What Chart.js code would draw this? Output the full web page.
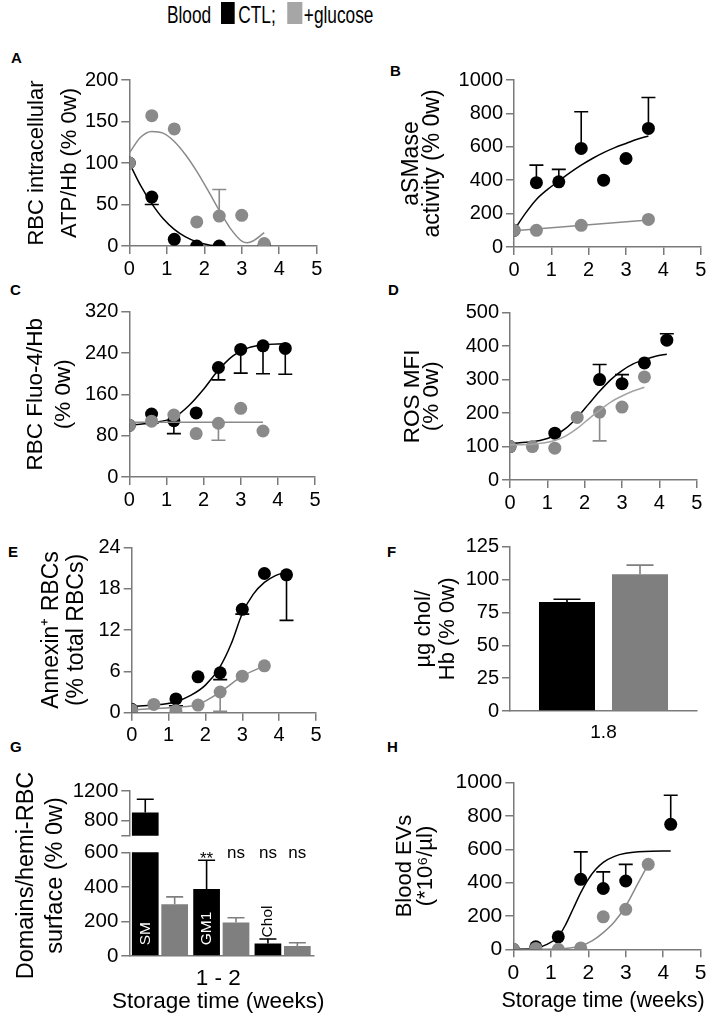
<!DOCTYPE html>
<html lang="en">
<head>
<meta charset="UTF-8">
<title>Stored blood: CTL vs +glucose</title>
<script src="https://cdn.jsdelivr.net/npm/chart.js"></script>
<style>
  html, body { margin: 0; padding: 0; overflow: hidden; background: #fff; }
  body { width: 717px; height: 1015px; position: relative; font-family: 'Liberation Sans', Arial, sans-serif; color: #000; }
  canvas { position: absolute; }
  .letter { position: absolute; font-weight: bold; font-size: 15px; line-height: 16px; }
  #legend { position: absolute; left: 167px; top: 0; height: 28px; width: 300px; transform: scaleX(0.72); transform-origin: 0 0; font-size: 24px; line-height: 28px; white-space: nowrap; }
  #legend span { position: absolute; top: 1px; }
  #legend i { position: absolute; top: 2px; height: 22px; }
</style>
</head>
<body>

<div id="legend">
  <span style="left:0">Blood</span>
  <i style="left:75px;width:19px;background:#000"></i>
  <span style="left:99px">CTL;</span>
  <i style="left:167px;width:21px;background:#a6a6a6"></i>
  <span style="left:190px">+glucose</span>
</div>

<div class="letter" style="left:11px;top:50px">A</div>
<div class="letter" style="left:390px;top:63px">B</div>
<div class="letter" style="left:10px;top:282px">C</div>
<div class="letter" style="left:388px;top:282px">D</div>
<div class="letter" style="left:8px;top:544px">E</div>
<div class="letter" style="left:387px;top:544px">F</div>
<div class="letter" style="left:10px;top:739px">G</div>
<div class="letter" style="left:387px;top:739px">H</div>

<script>
// ---------- data ----------
const weekRange = [0, 5];

// A  intracellular ATP/Hb
const atpWeeksCtl = [0, 0.6, 1.2, 1.8, 2.4, 3.6];
const atpCtl      = [100, 59, 8, 0, 0, 1];
const atpCtlErr   = [null, 50, null, null, null, null];
const atpWeeksGlu = [0, 0.6, 1.2, 1.8, 2.4, 3.0, 3.6];
const atpGlu      = [100, 157, 141, 29, 36, 37, 3];
const atpGluErr   = [null, null, null, null, 68, null, null];
const atpCtlFitX  = [0, 0.3, 0.6, 0.9, 1.2, 1.5, 1.8, 2.1, 2.3];
const atpCtlFitY  = [100, 73, 51, 33, 20, 11, 5, 1.5, 0];
const atpGluFitX  = [0, 0.3, 0.6, 0.9, 1.2, 1.5, 1.8, 2.1, 2.4, 2.7, 3.0, 3.15, 3.3, 3.6];
const atpGluFitY  = [112, 131, 138, 136, 126, 110, 90, 67, 43, 21, 6, 4, 6, 16];

// B  aSMase activity
const smaseWeeksCtl = [0, 0.6, 1.2, 1.8, 2.4, 3.0, 3.6];
const smaseCtl      = [100, 385, 390, 590, 400, 530, 710];
const smaseCtlErr   = [null, 490, 465, 810, null, null, 895];
const smaseWeeksGlu = [0, 0.6, 1.8, 3.6];
const smaseGlu      = [100, 100, 130, 165];
const smaseCtlFitX  = [0, 0.3, 0.6, 0.9, 1.2, 1.5, 1.8, 2.1, 2.4, 2.7, 3.0, 3.3, 3.6];
const smaseCtlFitY  = [100, 200, 285, 345, 395, 445, 490, 530, 565, 595, 620, 645, 665];
const smaseGluFitX  = [0, 3.6];
const smaseGluFitY  = [98, 162];

// C  Fluo-4/Hb
const fluoWeeksCtl = [0, 0.6, 1.2, 1.8, 2.4, 3.0, 3.6, 4.2];
const fluoCtl      = [100, 122, 109, 124, 212, 247, 254, 249];
const fluoCtlErr   = [null, 104, 84, null, 188, 201, 200, 199];
const fluoWeeksGlu = [0, 0.6, 1.2, 1.8, 2.4, 3.0, 3.6];
const fluoGlu      = [100, 108, 120, 84, 104, 133, 89];
const fluoGluErr   = [null, null, null, null, 71, null, null];
const fluoCtlFitX  = [0, 0.4, 0.8, 1.2, 1.6, 2.0, 2.4, 2.8, 3.2, 3.6, 4.2];
const fluoCtlFitY  = [100, 103, 107, 115, 138, 170, 207, 235, 250, 256, 258];
const fluoGluFitX  = [0, 3.6];
const fluoGluFitY  = [106, 106];

// D  ROS MFI
const rosWeeksCtl = [0, 1.2, 2.4, 3.0, 3.6, 4.2];
const rosCtl      = [100, 140, 300, 288, 350, 418];
const rosCtlErr   = [null, null, 345, 315, null, 437];
const rosWeeksGlu = [0, 0.6, 1.2, 1.8, 2.4, 3.0, 3.6];
const rosGlu      = [100, 100, 95, 187, 203, 218, 308];
const rosGluErr   = [null, null, null, null, 117, null, null];
const rosCtlFitX  = [0, 0.6, 1.0, 1.2, 1.5, 1.8, 2.1, 2.4, 2.7, 3.0, 3.3, 3.6, 3.9, 4.2];
const rosCtlFitY  = [110, 114, 124, 133, 155, 187, 226, 265, 300, 327, 347, 360, 370, 376];
const rosGluFitX  = [0, 0.6, 1.2, 1.5, 1.8, 2.1, 2.4, 2.7, 3.0, 3.3, 3.6];
const rosGluFitY  = [105, 107, 118, 132, 154, 182, 209, 233, 251, 266, 277];

// E  Annexin+ RBCs
const annexWeeksCtl = [0, 1.2, 1.8, 2.4, 3.0, 3.6, 4.2];
const annexCtl      = [0.5, 2, 5.2, 5.8, 15, 20.2, 20];
const annexCtlErr   = [null, 1.0, null, 4.8, 14.3, null, 13.4];
const annexWeeksGlu = [0, 0.6, 1.2, 1.8, 2.4, 3.0, 3.6];
const annexGlu      = [0.4, 1.2, 0.3, 1.1, 3.0, 5.3, 6.8];
const annexGluErr   = [null, null, null, null, 0.2, null, null];
const annexCtlFitX  = [0, 0.6, 1.2, 1.6, 2.0, 2.4, 2.7, 3.0, 3.3, 3.6, 3.9, 4.2];
const annexCtlFitY  = [0.9, 1.1, 1.6, 2.5, 4.0, 6.7, 10.0, 14.4, 17.2, 18.9, 19.9, 20.4];
const annexGluFitX  = [0, 0.6, 1.2, 1.8, 2.4, 3.0, 3.6];
const annexGluFitY  = [0.4, 0.6, 0.8, 1.2, 3.0, 5.3, 6.8];

// F  cholesterol/Hb at 1.8 w
const cholWeek   = ['1.8'];
const cholCtl    = [83];
const cholCtlErr = [85];
const cholGlu    = [104];
const cholGluErr = [111];

// G  domains / hemi-RBC surface at 1-2 w
const domainLipids    = ['SM', 'GM1', 'Chol'];
const domainCtl       = [910, 387, 73];
const domainCtlErr    = [1090, 554, 98];
const domainGlu       = [300, 194, 58];
const domainGluErr    = [342, 221, 77];
const domainMarksCtl  = ['', '**', 'ns'];
const domainMarksGlu  = ['', 'ns', 'ns'];
const domainUpperTicks = [600, 800, 1200];

// H  blood EVs
const evWeeksCtl = [0, 0.6, 1.2, 1.8, 2.4, 3.0, 4.2];
const evCtl      = [0, 15, 75, 420, 365, 410, 750];
const evCtlErr   = [null, null, null, 585, 465, 510, 925];
const evWeeksGlu = [0, 0.6, 1.2, 1.8, 2.4, 3.0, 3.6];
const evGlu      = [0, 5, 0, 8, 195, 240, 510];
const evCtlFitX  = [0, 0.6, 0.9, 1.2, 1.4, 1.6, 1.8, 2.0, 2.2, 2.4, 2.7, 3.0, 3.5, 4.2];
const evCtlFitY  = [0, 8, 30, 75, 150, 245, 340, 420, 480, 522, 558, 576, 587, 590];
const evGluFitX  = [0, 1.2, 1.5, 1.8, 2.1, 2.4, 2.7, 3.0, 3.3, 3.6];
const evGluFitY  = [0, 2, 8, 20, 50, 100, 165, 260, 385, 510];

// ---------- look ----------
const FONT = "'Liberation Sans', Arial, Helvetica, sans-serif";
const AXIS = '#7a7a7a';
const BLACK = '#000000';
const GREY = '#8a8a8a';
const GREY_BAR = '#7f7f7f';

Chart.defaults.font.family = FONT;
Chart.defaults.color = '#000';

// error bars drawn just under their own dataset
const errorBars = {
  id: 'errorBars',
  beforeDatasetDraw(chart, args, opts) {
    const ds = chart.data.datasets[args.index];
    if (!ds.errTo) return;
    const meta = args.meta;
    const ys = chart.scales[meta.yAxisID];
    const ctx = chart.ctx;
    const a = chart.chartArea;
    const half = (opts.cap || 14) / 2;
    ctx.save();
    if (opts.clip) {
      ctx.beginPath();
      ctx.rect(a.left, a.top, a.right - a.left, a.bottom - a.top);
      ctx.clip();
    }
    ctx.strokeStyle = ds.errColor;
    ctx.lineWidth = 1.6;
    meta.data.forEach((el, i) => {
      const to = ds.errTo[i];
      if (to === null || to === undefined) return;
      const y1 = ys.getPixelForValue(to);
      ctx.beginPath();
      ctx.moveTo(el.x, el.y);
      ctx.lineTo(el.x, y1);
      ctx.moveTo(el.x - half, y1);
      ctx.lineTo(el.x + half, y1);
      ctx.stroke();
    });
    ctx.restore();
  }
};

// lipid names inside the bars and significance marks above them (panel G)
const barTags = {
  id: 'barTags',
  afterDatasetsDraw(chart) {
    const ctx = chart.ctx;
    const a = chart.chartArea;
    chart.data.datasets.forEach((ds, di) => {
      const meta = chart.getDatasetMeta(di);
      meta.data.forEach((el, i) => {
        const tag = ds.tags ? ds.tags[i] : '';
        if (tag) {
          const inside = el.base - Math.max(el.y, a.top) > 60;
          ctx.save();
          ctx.translate(el.x, inside ? el.base - 10 : el.y - 6);
          ctx.rotate(-Math.PI / 2);
          ctx.font = '15.5px ' + FONT;
          ctx.fillStyle = inside ? '#fff' : '#000';
          ctx.textAlign = 'left';
          ctx.textBaseline = 'middle';
          ctx.fillText(tag, 0, 0);
          ctx.restore();
        }
        const mark = ds.marks ? ds.marks[i] : '';
        if (mark) {
          ctx.save();
          ctx.font = '17px ' + FONT;
          ctx.fillStyle = '#000';
          ctx.textAlign = 'center';
          ctx.textBaseline = 'middle';
          ctx.fillText(mark, el.x, a.top + 1 + (mark.indexOf('*') >= 0 ? 6 : 0));
          ctx.restore();
        }
      });
    });
  }
};

// y title spanning both halves of the broken axis in G
const splitTitle = {
  id: 'splitTitle',
  afterDraw(chart, args, opts) {
    if (!opts.lines) return;
    const s = chart.scales.y;
    const ctx = chart.ctx;
    ctx.save();
    ctx.font = opts.size + 'px ' + FONT;
    ctx.fillStyle = '#000';
    ctx.textAlign = 'center';
    ctx.textBaseline = 'middle';
    opts.lines.forEach((line, i) => {
      ctx.save();
      ctx.translate(s.left + opts.lh / 2 + i * opts.lh, opts.centerY);
      ctx.rotate(-Math.PI / 2);
      ctx.fillText(line, 0, 0);
      ctx.restore();
    });
    ctx.restore();
  }
};

// x title that may run wider than the plot (Chart.js squeezes its own to the axis width)
const wideXTitle = {
  id: 'wideXTitle',
  afterDraw(chart, args, opts) {
    if (!opts.lines) return;
    const a = chart.chartArea;
    const ctx = chart.ctx;
    ctx.save();
    ctx.font = opts.size + 'px ' + FONT;
    ctx.fillStyle = '#000';
    ctx.textAlign = 'center';
    ctx.textBaseline = 'middle';
    opts.lines.forEach((line, i) => {
      ctx.fillText(line, (a.left + a.right) / 2 + (opts.dx || 0), a.bottom + opts.offsets[i]);
    });
    ctx.restore();
  }
};

function addCanvas(box, yw, padT, padR, xh) {
  const left = Math.floor(box.L - yw);
  const top = Math.floor(box.T - padT);
  const width = Math.ceil(box.R + padR) - left;
  const height = Math.ceil(box.B + xh) - top;
  const c = document.createElement('canvas');
  c.width = width;
  c.height = height;
  c.style.left = left + 'px';
  c.style.top = top + 'px';
  c.style.width = width + 'px';
  c.style.height = height + 'px';
  document.body.appendChild(c);
  return { canvas: c, left: left, top: top, yw: box.L - left, padT: box.T - top,
           padR: width - (box.R - left), xh: height - (box.B - top) };
}

function titleWidth(box, t) {
  return box.L - (t.base1 - 0.35 * t.size - t.lh / 2);
}

function pts(xs, ys) {
  return xs.map((x, i) => ({ x: x, y: ys[i] }));
}
function dots(xs, ys, color, err) {
  return { type: 'scatter', data: pts(xs, ys), backgroundColor: color, borderWidth: 0,
           pointRadius: 6.5, pointHoverRadius: 6.5, errTo: err, errColor: color };
}
function curve(xs, ys, color) {
  return { type: 'line', data: pts(xs, ys), borderColor: color, borderWidth: 1.5, pointRadius: 0,
           cubicInterpolationMode: 'monotone', fill: false };
}

function lineOpts(tickLen, show) {
  return {
    grid: { display: show, drawOnChartArea: false, drawTicks: true, tickLength: tickLen, color: AXIS, lineWidth: 1.5 },
    border: { display: true, color: AXIS, width: 1.5 }
  };
}

const plainNumber = (v) => String(v);

function yAxis(y, t, yw, tick, cb) {
  return Object.assign({
    type: 'linear', min: y.min, max: y.max,
    ticks: { stepSize: y.step, font: { size: tick }, color: '#000', padding: 3, autoSkip: false, callback: cb || plainNumber },
    title: t ? { display: true, text: t.lines, font: { size: t.size, lineHeight: t.lh / t.size }, color: '#000', padding: 0 } : { display: false },
    afterFit: s => { s.width = yw; }
  }, lineOpts(8, true));
}

function weeksAxis(tick, xh) {
  return Object.assign({
    type: 'linear', min: weekRange[0], max: weekRange[1],
    ticks: { stepSize: 1, font: { size: tick }, color: '#000', padding: 3, callback: plainNumber },
    afterFit: s => { s.height = xh; }
  }, lineOpts(8, true));
}

function weeksChart(s) {
  const g = addCanvas(s.box, titleWidth(s.box, s.title), 16, 14, s.xh || 38);
  return new Chart(g.canvas, {
    type: 'scatter',
    data: { datasets: s.datasets },
    options: {
      responsive: false, animation: false, events: [],
      layout: { padding: { left: 0, top: g.padT, right: g.padR, bottom: 0 } },
      plugins: { legend: { display: false }, tooltip: { enabled: false }, errorBars: { cap: 14 },
                 wideXTitle: s.xTitle || {} },
      scales: {
        x: weeksAxis(s.tick, g.xh),
        y: yAxis(s.y, s.title, g.yw, s.tick)
      }
    },
    plugins: [errorBars, wideXTitle]
  });
}

// ---------- panels ----------
weeksChart({
  box: { L: 129.3, R: 316.7, T: 80, B: 246 },
  title: { lines: ['RBC intracellular', 'ATP/Hb (% 0w)'], size: 22, lh: 33, base1: 45 },
  tick: 20, y: { min: 0, max: 200, step: 50 },
  datasets: [
    curve(atpGluFitX, atpGluFitY, GREY),
    dots(atpWeeksGlu, atpGlu, GREY, atpGluErr),
    curve(atpCtlFitX, atpCtlFitY, BLACK),
    dots(atpWeeksCtl, atpCtl, BLACK, atpCtlErr)
  ]
});

weeksChart({
  box: { L: 514, R: 700.7, T: 80, B: 247 },
  title: { lines: ['aSMase', 'activity (% 0w)'], size: 23, lh: 21, base1: 420.5 },
  tick: 20, y: { min: 0, max: 1000, step: 200 },
  datasets: [
    curve(smaseGluFitX, smaseGluFitY, GREY),
    dots(smaseWeeksGlu, smaseGlu, GREY, null),
    curve(smaseCtlFitX, smaseCtlFitY, BLACK),
    dots(smaseWeeksCtl, smaseCtl, BLACK, smaseCtlErr)
  ]
});

weeksChart({
  box: { L: 129.3, R: 315, T: 311.7, B: 477 },
  title: { lines: ['RBC Fluo-4/Hb', '(% 0w)'], size: 22.5, lh: 28, base1: 44.5 },
  tick: 20, y: { min: 0, max: 320, step: 80 },
  datasets: [
    curve(fluoGluFitX, fluoGluFitY, GREY),
    dots(fluoWeeksGlu, fluoGlu, GREY, fluoGluErr),
    curve(fluoCtlFitX, fluoCtlFitY, BLACK),
    dots(fluoWeeksCtl, fluoCtl, BLACK, fluoCtlErr)
  ]
});

weeksChart({
  box: { L: 510, R: 696.7, T: 312.7, B: 480 },
  title: { lines: ['ROS MFI', '(% 0w)'], size: 22.5, lh: 19, base1: 421 },
  tick: 20, y: { min: 0, max: 500, step: 100 },
  datasets: [
    curve(rosGluFitX, rosGluFitY, '#a3a3a3'),
    dots(rosWeeksGlu, rosGlu, GREY, rosGluErr),
    curve(rosCtlFitX, rosCtlFitY, BLACK),
    dots(rosWeeksCtl, rosCtl, BLACK, rosCtlErr)
  ]
});

weeksChart({
  box: { L: 131.7, R: 316, T: 547.3, B: 712.7 },
  title: { lines: ['Annexin\u207A RBCs', '(% total RBCs)'], size: 23, lh: 25, base1: 60 },
  tick: 20, y: { min: 0, max: 24, step: 6 },
  datasets: [
    curve(annexGluFitX, annexGluFitY, GREY),
    dots(annexWeeksGlu, annexGlu, GREY, annexGluErr),
    curve(annexCtlFitX, annexCtlFitY, BLACK),
    dots(annexWeeksCtl, annexCtl, BLACK, annexCtlErr)
  ]
});

// F: bars at 1.8 w
(function () {
  const box = { L: 510, R: 697, T: 546.7, B: 711 };
  const t = { lines: ['\u00B5g chol/', 'Hb (% 0w)'], size: 22, lh: 24, base1: 432.5 };
  const g = addCanvas(box, titleWidth(box, t), 16, 14, 40);
  new Chart(g.canvas, {
    type: 'bar',
    data: {
      labels: cholWeek,
      datasets: [
        { data: cholCtl, backgroundColor: BLACK, errTo: cholCtlErr, errColor: BLACK, barPercentage: 0.767, categoryPercentage: 0.781 },
        { data: cholGlu, backgroundColor: GREY_BAR, errTo: cholGluErr, errColor: GREY_BAR, barPercentage: 0.767, categoryPercentage: 0.781 }
      ]
    },
    options: {
      responsive: false, animation: false, events: [],
      layout: { padding: { left: 0, top: g.padT, right: g.padR, bottom: 0 } },
      plugins: { legend: { display: false }, tooltip: { enabled: false }, errorBars: { cap: 27 } },
      scales: {
        x: Object.assign({
          type: 'category',
          ticks: { font: { size: 19 }, color: '#000', padding: 10 },
          afterFit: s => { s.height = g.xh; }
        }, lineOpts(0, false)),
        y: yAxis({ min: 0, max: 125, step: 25 }, t, g.yw, 20)
      }
    },
    plugins: [errorBars]
  });
})();

// G: broken y axis, drawn as an upper and a lower chart
(function () {
  const upper = { L: 129.3, R: 313.3, T: 791, B: 836 };
  const lower = { L: 129.3, R: 313.3, T: 852.3, B: 956 };
  const t = { lines: ['Domains/hemi-RBC', 'surface (% 0w)'], size: 23.5, lh: 29, base1: 35 };
  const yw = titleWidth(lower, t);
  const barSets = (withTags) => [
    { data: domainCtl, backgroundColor: BLACK, errTo: domainCtlErr, errColor: BLACK, clip: 0,
      barPercentage: 0.908, categoryPercentage: 0.959,
      tags: withTags ? domainLipids : null, marks: withTags ? domainMarksCtl : null },
    { data: domainGlu, backgroundColor: GREY_BAR, errTo: domainGluErr, errColor: GREY_BAR, clip: 0,
      barPercentage: 0.908, categoryPercentage: 0.959,
      marks: withTags ? domainMarksGlu : null }
  ];

  const gu = addCanvas(upper, yw, 16, 14, 15);
  new Chart(gu.canvas, {
    type: 'bar',
    data: { labels: domainLipids, datasets: barSets(false) },
    options: {
      responsive: false, animation: false, events: [],
      layout: { padding: { left: 0, top: gu.padT, right: gu.padR, bottom: gu.xh } },
      plugins: { legend: { display: false }, tooltip: { enabled: false }, errorBars: { cap: 17, clip: true } },
      scales: {
        x: { type: 'category', display: false },
        y: Object.assign(
          yAxis({ min: 600, max: 1200, step: 200 }, null, gu.yw, 20.5, (v) => (v === 600 ? '' : String(v))),
          { afterBuildTicks: s => { s.ticks = domainUpperTicks.map(v => ({ value: v })); } }
        )
      }
    },
    plugins: [errorBars]
  });

  const gl = addCanvas(lower, yw, lower.T - 755, 14, 1013 - lower.B);
  new Chart(gl.canvas, {
    type: 'bar',
    data: { labels: domainLipids, datasets: barSets(true) },
    options: {
      responsive: false, animation: false, events: [],
      layout: { padding: { left: 0, top: gl.padT, right: gl.padR, bottom: 0 } },
      plugins: {
        legend: { display: false }, tooltip: { enabled: false },
        errorBars: { cap: 17, clip: true },
        splitTitle: { lines: t.lines, size: t.size, lh: t.lh, centerY: (upper.T + lower.B) / 2 + 2 - gl.top },
        wideXTitle: { lines: ['1 - 2', 'Storage time (weeks)'], size: 22.5, offsets: [22.5, 45.5], dx: -3 }
      },
      scales: {
        x: Object.assign({
          type: 'category',
          ticks: { display: false },
          afterFit: s => { s.height = gl.xh; }
        }, lineOpts(0, false)),
        y: yAxis({ min: 0, max: 600, step: 200 }, null, gl.yw, 20.5)
      }
    },
    plugins: [errorBars, barTags, splitTitle, wideXTitle]
  });
})();

weeksChart({
  box: { L: 513.3, R: 700.7, T: 782.7, B: 949.3 },
  title: { lines: ['Blood EVs', '(*10\u2076/\u00B5l)'], size: 22, lh: 21.5, base1: 412.5 },
  tick: 21, y: { min: 0, max: 1000, step: 200 },
  xh: 1013 - 949.3,
  xTitle: { lines: ['Storage time (weeks)'], size: 21.5, offsets: [52], dx: -4 },
  datasets: [
    curve(evGluFitX, evGluFitY, GREY),
    dots(evWeeksGlu, evGlu, GREY, null),
    curve(evCtlFitX, evCtlFitY, BLACK),
    dots(evWeeksCtl, evCtl, BLACK, evCtlErr)
  ]
});
</script>
</body>
</html>
